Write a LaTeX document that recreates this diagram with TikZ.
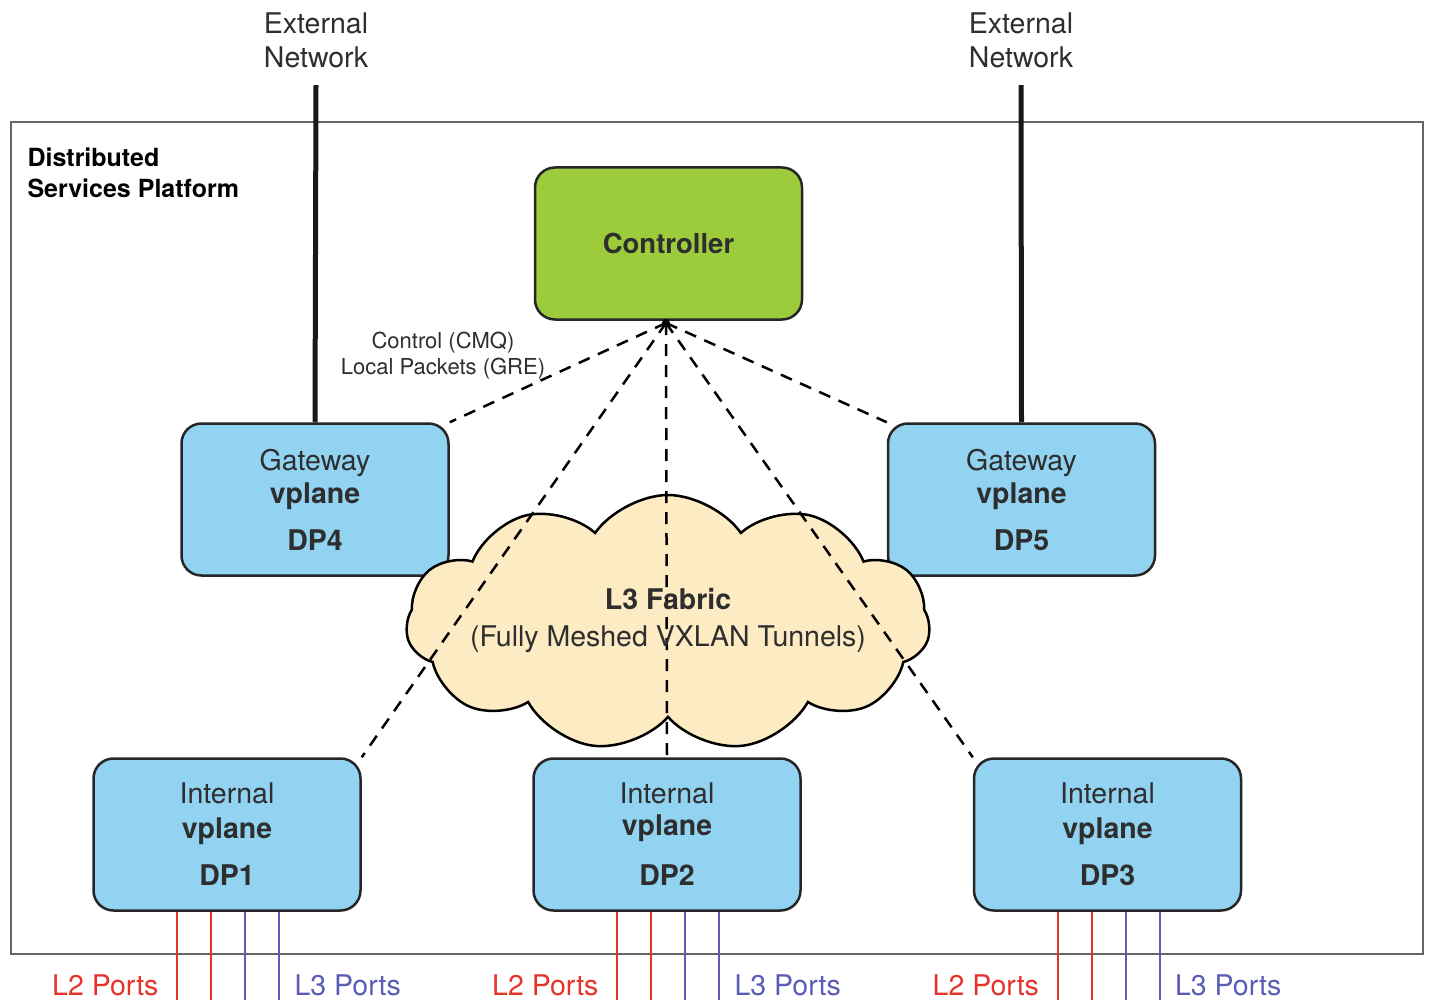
\documentclass[tikz,border=0pt]{standalone}
\usepackage{fontspec}
\setmainfont{TeX Gyre Heros}
\usetikzlibrary{shapes.symbols}
\usetikzlibrary{positioning}

\definecolor{planeblue}{HTML}{92D3F2}
\definecolor{ctrlgreen}{HTML}{9CCB3B}
\definecolor{fabriccream}{HTML}{FCEBC3}
\definecolor{textgray}{HTML}{2E2E2E}
\definecolor{portred}{HTML}{E5332A}
\definecolor{portblue}{HTML}{5B5BB8}

\begin{document}
\begin{tikzpicture}[x=1pt, y=-1pt,
    plane/.style={draw=black!85, line width=2.5pt, fill=planeblue, rounded corners=20pt,
      minimum width=267pt, minimum height=152pt, align=center, text=textgray,
      font=\fontsize{28.5}{31}\selectfont},
    ctrl/.style={plane, fill=ctrlgreen},
    fabric/.style={draw=black, line width=2.5pt, fill=fabriccream, shape=cloud,
      cloud puffs=11, cloud puff arc=110, cloud ignores aspect, inner sep=0pt,
      minimum width=524pt, minimum height=256pt},
    tunnel/.style={line width=2.5pt, dash pattern=on 12pt off 9pt},
    uplink/.style={line width=5pt, black!90},
    frame/.style={draw=black!60, line width=2.5pt},
    l2port/.style={portred, line width=2pt},
    l3port/.style={portblue, line width=2pt},
    note/.style={align=center, text=textgray, font=\fontsize{28.5}{34}\selectfont}]
  \useasboundingbox (0,0) rectangle (1430,1003);

  % platform frame
  \draw[frame] (11,122) rectangle (1423,954);
  \node[anchor=north west, align=left, font=\bfseries\fontsize{25}{31}\selectfont] (dsp) at (24,144)
    {Distributed\\ Services Platform};

  % external networks
  \node[note] (ext4) at (316,40) {External\\Network};
  \node[note] (ext5) at (1021,40) {External\\Network};

  % vplanes and controller
  \node[ctrl] (ctrl) at (668.5,243.5) {{\bfseries\fontsize{27.5}{31}\selectfont Controller}};
  \node[plane] (dp4) at (315,499.5) {Gateway\\[2pt]\textbf{vplane}\\[16pt]\textbf{DP4}};
  \node[plane] (dp5) at (1021.5,499.5) {Gateway\\[2pt]\textbf{vplane}\\[16pt]\textbf{DP5}};
  \node[plane] (dp1) at (227,834.5) {Internal\\[4pt]\textbf{vplane}\\[16pt]\textbf{DP1}};
  \node[plane] (dp2) at (667,834.5) {Internal\\[1pt]\textbf{vplane}\\[19pt]\textbf{DP2}};
  \node[plane] (dp3) at (1107.5,834.5) {Internal\\[4pt]\textbf{vplane}\\[16pt]\textbf{DP3}};

  \draw[uplink] ([yshift=-14pt]ext4.south) -- (dp4.north);
  \draw[uplink] ([yshift=-14pt]ext5.south) -- (dp5.north);

  % L3 fabric
  \node[fabric] (l3) at (668,623) {};

  % control channels
  \coordinate (hub) at (666,323);
  \foreach \p/\a in {dp4/north east, dp5/north west, dp1/north east, dp2/north, dp3/north west}
    \draw[tunnel] (hub) -- (\p.\a);
  \fill (hub) circle (4pt);
  \node[align=center, text=textgray, font=\fontsize{22}{26}\selectfont] (cmq) at (443,356)
    {Control (CMQ)\\Local Packets (GRE)};
  \node[align=center, text=textgray, font=\fontsize{28.5}{37}\selectfont] (l3txt) at ([yshift=3pt]l3.center)
    {\textbf{L3 Fabric}\\(Fully Meshed VXLAN Tunnels)};

  % ports
  \foreach \p in {dp1, dp2, dp3} {
    \draw[l2port] ([xshift=-50pt]\p.south) -- ++(0,88);
    \draw[l2port] ([xshift=-16pt]\p.south) -- ++(0,88);
    \draw[l3port] ([xshift=18pt]\p.south) -- ++(0,88);
    \draw[l3port] ([xshift=52pt]\p.south) -- ++(0,88);
    \node[anchor=east, text=portred, font=\fontsize{28.5}{31}\selectfont] (\p l2)
      at ([xshift=-65pt, yshift=-74pt]\p.south) {L2 Ports};
    \node[anchor=west, text=portblue, font=\fontsize{28.5}{31}\selectfont] (\p l3)
      at ([xshift=64pt, yshift=-74pt]\p.south) {L3 Ports};
  }
\end{tikzpicture}
\end{document}
